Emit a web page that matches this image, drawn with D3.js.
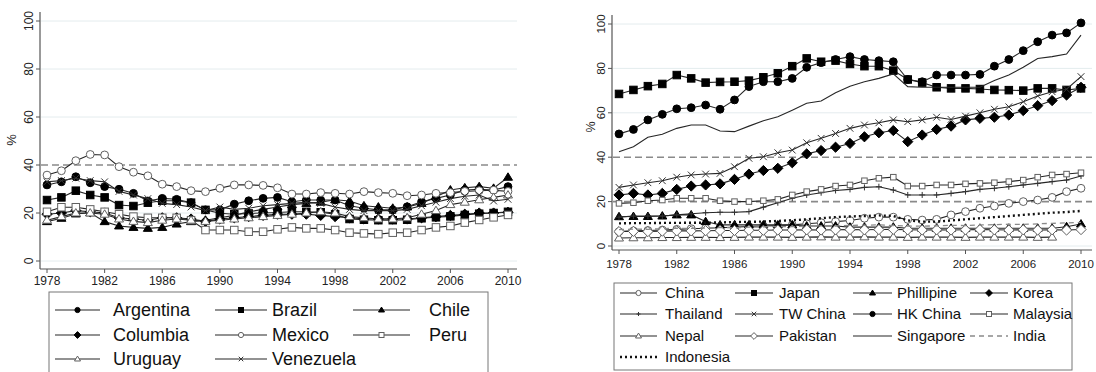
<!DOCTYPE html>
<html>
<head>
<meta charset="utf-8">
<script src="https://cdn.jsdelivr.net/npm/d3@7"></script>
<style>
  body { margin: 0; background: #fff; }
  svg { display: block; font-family: "Liberation Sans", Arial, Helvetica, sans-serif; }
</style>
</head>
<body>
<svg id="chart" width="1096" height="372"></svg>
<script>
// ---- data: share (%) by year, 1978-2010 ----
const years = [1978,1979,1980,1981,1982,1983,1984,1985,1986,1987,1988,1989,1990,1991,1992,1993,
  1994,1995,1996,1997,1998,1999,2000,2001,2002,2003,2004,2005,2006,2007,2008,2009,2010];
const xTicks = [1978,1982,1986,1990,1994,1998,2002,2006,2010];
const yTicks = [0,20,40,60,80,100];

// Latin America
const argentina = [31.7,33,35.1,32.6,31,29.9,28.2,25,26.1,25.7,24.3,21.3,21.3,23.7,25.1,26.1,26.5,24.7,25.4,25.4,25.4,23,22,21.3,21.3,22.6,24.7,26.1,27.5,29.6,29.9,29.6,31];
const brazil    = [25.4,26.5,29.3,27.5,26.5,23.3,22.9,24.3,25.1,25.1,24.3,21.3,19.9,19.5,19.8,20,20.2,20.5,20.5,20.3,19.5,17.5,17.2,17,17,17.2,17.8,18.2,18.6,19.2,19.7,20,20.5];
const chile     = [16.4,17.8,19.6,20.1,16.4,14.6,14,13.6,14,15.4,16.4,17,18,19,20.5,21.5,22.5,23.5,24,24.5,25.5,25,23,22.5,22,22.5,24,26.8,29.6,30.5,31,30.3,34.9];
const columbia  = [19.5,20,21,20.5,20,18,17.5,17,18,18,17.5,16.5,17.5,18,18.5,19,19.5,19.5,19.5,19,18.5,18,17.5,17.5,17.5,17.5,18,18.5,19,19.5,20,20,20.3];
const mexico    = [35.8,37.6,41.8,44.4,44.2,39.3,37,35.5,32,31,29.3,28.9,30.3,31.7,31.7,31.5,30.5,27.9,27.9,28.5,28.2,27.9,28.9,28.5,28.2,27.2,27.5,28.2,28.5,29,29.3,29.5,29];
const peru      = [20.5,22.4,22.4,21.5,20.5,19.5,18.5,18,18,18,17,12.9,12.9,12.9,12.2,12.2,13.2,14,13.6,13.6,12.9,11.8,11.5,11.2,11.8,11.8,12.9,14,14.6,16,17.1,18.2,19.2];
const uruguay   = [17,18.5,20,20,19.5,17.5,16.5,16,17,17.5,17,16.5,17,17.5,18,18.5,19,19.5,20,20.5,20,18.5,18,17.5,17.5,18,19.5,21,23.5,24.5,25.5,26.5,27.5];
const venezuela = [33,33.5,34.5,33.5,33,29,27.5,26,24,23.5,22.5,21,22.5,21.5,22,23,23.5,24,24.5,24,22.5,21.5,21,21,21,21.5,23,24.5,26,27,27.5,25,25.7];

// Asia
const china      = [6.5,6.8,7,7.2,7.5,7.8,8,8.2,8.5,8.8,9,9.2,9.5,10,10.5,11,11.5,12.5,13,13,12,11.7,12,14,15.5,17,18,19.2,20,20.7,21.9,24.5,26];
const japan      = [68.5,70.3,72,73,77,75.5,73.6,73.9,74,74.5,76,77.8,81,84.5,83,83.5,82,81,81,79,75,73.6,71.5,71,71,70.7,70.3,70.2,70,71,71,70.3,71];
const phillipine = [13.2,13.3,13.3,13.5,14,14,11,9.5,9.5,9.5,9.5,9.5,9.5,9,9,9,8.5,8.5,8.5,8.5,8,8,8,8,8,8,8,8,8,8,8,8.7,9.9];
const korea      = [23,23.7,23,23.7,25.5,27,27.5,28,30,32.4,34,35,37.5,41.5,43,44.5,46.2,49.2,51,52,47,50,52.5,54,56.8,57.5,58,59,61,63.2,65.5,68,71.5];
const thailand   = [13,13.5,13.5,13.5,14,14.5,15,15.2,15.2,15.5,17.5,19.5,21.5,23,24,25,25.5,26.4,26.7,25.2,23,23,23,23.7,24.5,25.5,26,26.7,27.5,28.2,29,29.7,31.5];
const twChina    = [26.4,27.5,28.5,29.4,31,32,32.4,32.7,35.7,39.5,40.2,42,43.2,46.5,48.5,50.7,53,54.5,55.5,56.8,56,56.8,58,57,58.5,60,61.6,62.7,65,67.6,69.5,70.6,76.3];
const hkChina    = [50.5,52.5,56.8,59.3,61.8,62.3,63.5,61.6,65.8,71.8,74,74,75.5,80.5,82.6,84,85.3,84,83.5,83,75,74,77,77,77,77.3,81,84,88,92,95,96,100.5];
const malaysia   = [19.2,19.5,20.4,20.7,21.5,21.5,21.5,20.4,20,20,20.4,21,23,24.5,25.5,27,27.5,29.4,30.5,31,27,27,27.5,27.5,28,28.2,28.5,29,29.7,31,32,32.4,33];
const nepal      = [3.6,3.7,3.7,3.8,3.8,3.9,3.9,3.8,3.9,4,4,4,3.9,4,4.1,4,4,4.1,4,4,3.9,4,4,4,3.9,4,4,4,4,3.9,4,null,null];
const pakistan   = [6.5,6.6,6.5,6.7,6.8,6.8,6.9,7,7,7.1,7.1,7.2,7.2,7.3,7.2,7.3,7.4,7.3,7.4,7.5,7.3,7.2,7.3,7.2,7.3,7.4,7.3,7.2,7.3,7.2,7.3,7.2,7.4];
const singapore  = [42.5,44.7,49,50.3,53,54.5,54.5,51.8,51.5,54,56.4,58.2,61.2,64.3,65.3,69,72,74,75.5,77.5,71.8,71.5,71.5,71.5,71.5,71.5,74.5,77,80.5,84.5,85.3,86.5,95];
const india      = [7.4,7.6,7.5,7.8,8,7.9,8.1,8.3,8.2,8.5,8.6,8.8,8.7,9,9.1,9,9.3,9.4,9.5,9.2,9,8.9,9.1,9.3,9.2,9.5,9.6,9.8,9.7,10,10.2,10.4,10.6];
const indonesia  = [10.2,10.3,10.3,10.4,10.4,10.5,10.5,10.6,10.8,10.9,11,11.3,11.6,12,12.5,13,13.3,13.5,13.8,13.5,11.5,11,11,11.5,12,12.5,13,13.5,14,14.5,15,15.3,15.8];

// ---- styling ----
const LINE = "#262626";
const OPEN = "#606060";
const GRID = "#e4ecee";
const REF = "#8a8a8a";

const svg = d3.select("#chart");

// marker painter: kind = circle | square | triangle | diamond | x | plus | none
function drawMarker(g, kind, filled, size) {
  const fill = filled ? "#000" : "#fff";
  const stroke = filled ? "#000" : OPEN;
  const s = size;
  if (kind === "circle") {
    g.append("circle").attr("r", s * 0.52).attr("fill", fill).attr("stroke", stroke).attr("stroke-width", 1);
  } else if (kind === "square") {
    g.append("rect").attr("x", -s/2).attr("y", -s/2).attr("width", s).attr("height", s)
      .attr("fill", fill).attr("stroke", stroke).attr("stroke-width", 1);
  } else if (kind === "triangle") {
    const h = s * 0.95;
    g.append("path").attr("d", `M0,${-h*0.62}L${s*0.6},${h*0.42}L${-s*0.6},${h*0.42}Z`)
      .attr("fill", fill).attr("stroke", stroke).attr("stroke-width", 1);
  } else if (kind === "diamond") {
    const r = s * 0.68;
    g.append("path").attr("d", `M0,${-r}L${r},0L0,${r}L${-r},0Z`)
      .attr("fill", fill).attr("stroke", stroke).attr("stroke-width", 1);
  } else if (kind === "x") {
    const r = s * 0.45;
    g.append("path").attr("d", `M${-r},${-r}L${r},${r}M${-r},${r}L${r},${-r}`)
      .attr("stroke", "#333").attr("stroke-width", 1).attr("fill", "none");
  } else if (kind === "plus") {
    const r = s * 0.4;
    g.append("path").attr("d", `M${-r},0L${r},0M0,${-r}L0,${r}`)
      .attr("stroke", "#333").attr("stroke-width", 1).attr("fill", "none");
  }
}

function drawPanel(p) {
  const x = d3.scaleLinear().domain([1978, 2010]).range(p.xRange);
  const y = d3.scaleLinear().domain([0, 100]).range(p.yRange);
  const g = svg.append("g");

  // gridlines and reference lines
  yTicks.forEach(t => {
    const isRef = p.refs.includes(t);
    g.append("line")
      .attr("x1", p.axisX + 1).attr("x2", p.gridEnd)
      .attr("y1", y(t)).attr("y2", y(t))
      .attr("stroke", isRef ? REF : GRID)
      .attr("stroke-width", isRef ? 1.6 : 1)
      .attr("stroke-dasharray", isRef ? "7,4" : null);
  });

  // y axis
  g.append("line").attr("x1", p.axisX).attr("x2", p.axisX)
    .attr("y1", p.axisTop).attr("y2", p.axisY).attr("stroke", "#555").attr("stroke-width", 1.2);
  yTicks.forEach(t => {
    g.append("line").attr("x1", p.axisX - 4).attr("x2", p.axisX)
      .attr("y1", y(t)).attr("y2", y(t)).attr("stroke", "#555");
    g.append("text")
      .attr("transform", `translate(${p.yLabelX},${y(t)}) rotate(-90)`)
      .attr("text-anchor", "middle").attr("font-size", p.yFont)
      .attr("fill", "#222").text(t);
  });
  g.append("text")
    .attr("transform", `translate(${p.pctX},${p.pctY}) rotate(-90)`)
    .attr("text-anchor", "middle").attr("font-size", p.yFont + 1)
    .attr("fill", "#222").text("%");

  // x axis
  g.append("line").attr("x1", p.axisX).attr("x2", p.gridEnd)
    .attr("y1", p.axisY).attr("y2", p.axisY).attr("stroke", "#555").attr("stroke-width", 1.2);
  xTicks.forEach(t => {
    g.append("line").attr("x1", x(t)).attr("x2", x(t))
      .attr("y1", p.axisY).attr("y2", p.axisY + 4).attr("stroke", "#555");
    g.append("text").attr("x", x(t)).attr("y", p.xLabelY)
      .attr("text-anchor", "middle").attr("font-size", p.xFont)
      .attr("fill", "#222").text(t);
  });

  // series
  p.series.forEach(s => {
    const pts = years.map((yr, i) => [yr, s.values[i]]);
    const line = d3.line().defined(d => d[1] != null).x(d => x(d[0])).y(d => y(d[1]));
    g.append("path").attr("d", line(pts)).attr("fill", "none")
      .attr("stroke", s.color || LINE)
      .attr("stroke-width", s.width || 1.1)
      .attr("stroke-dasharray", s.dash || null);
    if (s.marker !== "none") {
      pts.filter(d => d[1] != null).forEach(d => {
        const m = g.append("g").attr("transform", `translate(${x(d[0])},${y(d[1])})`);
        drawMarker(m, s.marker, s.filled, s.size || p.markerSize);
      });
    }
  });

  // legend
  const L = p.legend;
  g.append("rect").attr("x", L.x).attr("y", L.y).attr("width", L.w).attr("height", L.h)
    .attr("fill", "#fff").attr("stroke", "#777").attr("stroke-width", 1);
  p.series.forEach((s, i) => {
    const col = i % L.cols.length;
    const row = Math.floor(i / L.cols.length);
    const c = L.cols[col];
    const cy = L.rows[row];
    g.append("line").attr("x1", c[0]).attr("x2", c[1]).attr("y1", cy).attr("y2", cy)
      .attr("stroke", s.color || LINE).attr("stroke-width", s.width || 1.1)
      .attr("stroke-dasharray", s.dash || null);
    if (s.marker !== "none") {
      const m = g.append("g").attr("transform", `translate(${(c[0] + c[1]) / 2},${cy})`);
      drawMarker(m, s.marker, s.filled, L.markerSize);
    }
    g.append("text").attr("x", c[2]).attr("y", cy).attr("dy", "0.36em")
      .attr("font-size", L.font).attr("fill", "#111").text(s.name);
  });
}

drawPanel({
  xRange: [47, 508], yRange: [261, 21],
  axisX: 40, axisY: 269, axisTop: 12, gridEnd: 517,
  yLabelX: 33, yFont: 12, pctX: 16, pctY: 140,
  xLabelY: 285, xFont: 12, markerSize: 7.5,
  refs: [40],
  series: [
    { name: "Argentina", values: argentina, marker: "circle", filled: true },
    { name: "Brazil", values: brazil, marker: "square", filled: true },
    { name: "Chile", values: chile, marker: "triangle", filled: true },
    { name: "Columbia", values: columbia, marker: "diamond", filled: true },
    { name: "Mexico", values: mexico, marker: "circle", filled: false },
    { name: "Peru", values: peru, marker: "square", filled: false },
    { name: "Uruguay", values: uruguay, marker: "triangle", filled: false },
    { name: "Venezuela", values: venezuela, marker: "x", filled: false }
  ],
  legend: {
    x: 49, y: 292, w: 439, h: 100, font: 18, markerSize: 5,
    rows: [310, 335, 359],
    cols: [[55, 100, 113], [215, 267, 272], [353, 410, 429]]
  }
});

drawPanel({
  xRange: [619, 1081], yRange: [246, 24],
  axisX: 612, axisY: 250, axisTop: 15, gridEnd: 1092,
  yLabelX: 605, yFont: 11.5, pctX: 595, pctY: 127,
  xLabelY: 268, xFont: 11.5, markerSize: 7.5,
  refs: [20, 40],
  series: [
    { name: "China", values: china, marker: "circle", filled: false },
    { name: "Japan", values: japan, marker: "square", filled: true },
    { name: "Phillipine", values: phillipine, marker: "triangle", filled: true },
    { name: "Korea", values: korea, marker: "diamond", filled: true },
    { name: "Thailand", values: thailand, marker: "plus", filled: false },
    { name: "TW China", values: twChina, marker: "x", filled: false },
    { name: "HK China", values: hkChina, marker: "circle", filled: true },
    { name: "Malaysia", values: malaysia, marker: "square", filled: false, size: 5.5 },
    { name: "Nepal", values: nepal, marker: "triangle", filled: false },
    { name: "Pakistan", values: pakistan, marker: "diamond", filled: false },
    { name: "Singapore", values: singapore, marker: "none" },
    { name: "India", values: india, marker: "none", color: "#8a8a8a", dash: "5,4", width: 1.3 },
    { name: "Indonesia", values: indonesia, marker: "none", color: "#111", dash: "2,3", width: 2.4 }
  ],
  legend: {
    x: 614, y: 283, w: 458, h: 87, font: 15, markerSize: 5,
    rows: [293, 314, 336, 357],
    cols: [[620, 657, 665], [735, 773, 779], [853, 892, 897], [970, 1008, 1013]]
  }
});
</script>
</body>
</html>
